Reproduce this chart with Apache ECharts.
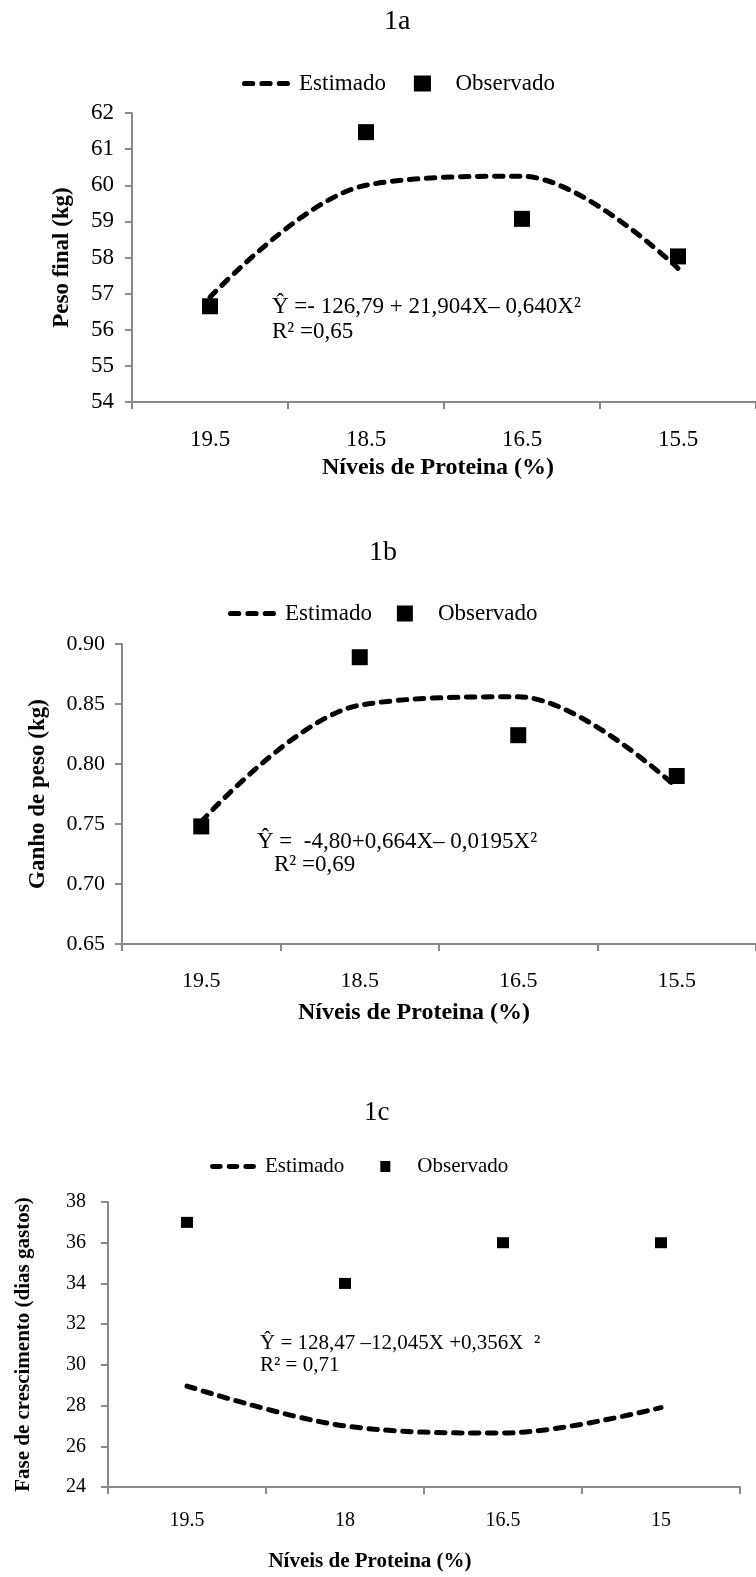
<!DOCTYPE html>
<html>
<head>
<meta charset="utf-8">
<script src="https://cdn.jsdelivr.net/npm/echarts@6/dist/echarts.min.js"></script>
<style>
body{margin:0;background:#fff;}
.painel{position:absolute;left:0;width:756px;}
</style>
</head>
<body>
<div id="fig1a" class="painel" style="top:0;height:510px"></div>
<div id="fig1b" class="painel" style="top:510px;height:520px"></div>
<div id="fig1c" class="painel" style="top:1030px;height:547px"></div>
<script>
var FONTE = '"Liberation Serif","Times New Roman",serif';
var CINZA = '#898989';

//1a - peso final
var niveisA = ['19.5', '18.5', '16.5', '15.5'];
var estimadoA = [56.9, 60.0, 60.25, 57.7];
var observadoA = [56.65, 61.47, 59.07, 58.03];
var eixoYA = [54, 62, 1];
var equacaoA = ['\u0176 =- 126,79 + 21,904X\u2013 0,640X\u00b2', 'R\u00b2 =0,65'];

//1b - ganho de peso
var niveisB = ['19.5', '18.5', '16.5', '15.5'];
var estimadoB = [0.752, 0.849, 0.856, 0.7805];
var observadoB = [0.748, 0.889, 0.824, 0.79];
var eixoYB = [0.65, 0.90, 0.05];
var equacaoB = ['\u0176 =  -4,80+0,664X\u2013 0,0195X\u00b2', 'R\u00b2 =0,69'];

//1c - fase de crescimento
var niveisC = ['19.5', '18', '16.5', '15'];
var estimadoC = [28.96, 27.0, 26.65, 27.9];
var observadoC = [37, 34, 36, 36];
var eixoYC = [24, 38, 2];
var equacaoC = ['\u0176 = 128,47 \u201312,045X +0,356X  \u00b2', 'R\u00b2 = 0,71'];

//icone da linha tracejada na legenda
var tracos = 'path://M2.5,0h8a2.5,2.5 0 0 1 0,5h-8a2.5,2.5 0 0 1 0,-5zM19.5,0h8a2.5,2.5 0 0 1 0,5h-8a2.5,2.5 0 0 1 0,-5zM36.5,0h8a2.5,2.5 0 0 1 0,5h-8a2.5,2.5 0 0 1 0,-5z';

function painel(id, p){
	var chart = echarts.init(document.getElementById(id));
	var option = {
		animation:false,
		title:{
			text:p.titulo, left:p.tituloX, top:p.tituloY, padding:0,
			textStyle:{fontFamily:FONTE, fontSize:p.fTitulo, fontWeight:'normal', color:'#000'}
		},
		legend:{
			left:p.legX, top:p.legY, itemWidth:p.legW, itemHeight:p.legH, itemGap:p.legGap,
			textStyle:{fontFamily:FONTE, fontSize:p.fLegenda, color:'#000', padding:[0,0,0,4]},
			data:[
				{name:'Estimado', icon:tracos, itemStyle:{color:'#000', borderWidth:0, opacity:1}},
				{name:'Observado', icon:p.quadrado, itemStyle:{color:'#000', borderWidth:0, opacity:1}}
			]
		},
		grid:{left:p.grade[0], top:p.grade[1], right:p.grade[2], bottom:p.grade[3]},
		xAxis:{
			type:'category', data:p.niveis, boundaryGap:true,
			name:'N\u00edveis de Proteina (%)', nameLocation:'middle', nameGap:p.gapX,
			nameTextStyle:{fontFamily:FONTE, fontSize:p.fNomeX, fontWeight:'bold', color:'#000', padding:[0,p.desvioX,0,0]},
			axisLine:{lineStyle:{color:CINZA, width:2}},
			axisTick:{show:true, length:7, interval:0, lineStyle:{color:CINZA, width:2}},
			axisLabel:{margin:p.margemX, fontFamily:FONTE, fontSize:p.fEixo, color:'#000'},
			splitLine:{show:false}
		},
		yAxis:{
			type:'value', min:p.eixoY[0], max:p.eixoY[1], interval:p.eixoY[2],
			name:p.nomeY, nameLocation:'middle', nameRotate:90, nameGap:p.gapY,
			nameTextStyle:{fontFamily:FONTE, fontSize:p.fNomeY, fontWeight:'bold', color:'#000'},
			axisLine:{show:true, lineStyle:{color:CINZA, width:2}},
			axisTick:{show:true, length:7, lineStyle:{color:CINZA, width:2}},
			axisLabel:{margin:p.margemY, fontFamily:FONTE, fontSize:p.fEixo, color:'#000',
				formatter:function(v){ return v.toFixed(p.casas); }},
			splitLine:{show:false}
		},
		graphic:[
			{type:'text', x:p.eq[0], y:p.eq[1], style:{text:p.equacao[0], fontFamily:FONTE, fontSize:p.fEq, fill:'#000', verticalAlign:'middle'}},
			{type:'text', x:p.eq[2], y:p.eq[3], style:{text:p.equacao[1], fontFamily:FONTE, fontSize:p.fEq, fill:'#000', verticalAlign:'middle'}}
		],
		series:[
			{
				name:'Estimado', type:'line', data:p.estimado, smooth:0.35, symbol:'none', color:'#000',
				lineStyle:{color:'#000', width:p.espessura, type:[8.5,8.5], cap:'round'}, z:2
			},
			{
				name:'Observado', type:'scatter', data:p.observado, symbol:'rect', symbolSize:p.simbolo,
				itemStyle:{color:'#000', opacity:1}, z:3
			}
		]
	};
	chart.setOption(option);
}

painel('fig1a', {
	titulo:'1a', tituloX:384, tituloY:8, fTitulo:28,
	legX:237, legY:67, legW:48, legH:16, legGap:28, fLegenda:23, quadrado:'path://M0,0h16v15h-16z',
	grade:[132, 113, -4, 108],
	niveis:niveisA, estimado:estimadoA, observado:observadoA, eixoY:eixoYA, casas:0,
	nomeY:'Peso final (kg)', gapY:58, fNomeY:23, margemY:18,
	gapX:54, desvioX:12, fNomeX:24, margemX:26, fEixo:23,
	equacao:equacaoA, eq:[272, 307, 272, 332], fEq:23, simbolo:[16,16], espessura:5
});

painel('fig1b', {
	titulo:'1b', tituloX:369, tituloY:29, fTitulo:28,
	legX:223, legY:87, legW:48, legH:16, legGap:25, fLegenda:23, quadrado:'path://M0,0h15v15h-15z',
	grade:[122, 134, -2, 77],
	niveis:niveisB, estimado:estimadoB, observado:observadoB, eixoY:eixoYB, casas:2,
	nomeY:'Ganho de peso (kg)', gapY:72, fNomeY:23, margemY:17,
	gapX:57, desvioX:50, fNomeX:24, margemX:26, fEixo:22,
	equacao:equacaoB, eq:[257, 332, 274, 355], fEq:23, simbolo:[16,16], espessura:5
});

painel('fig1c', {
	titulo:'1c', tituloX:364, tituloY:69, fTitulo:27,
	legX:205, legY:121, legW:46, legH:11, legGap:36, fLegenda:21, quadrado:'path://M0,0h10v11h-10z',
	grade:[108, 172, 16, 87],
	niveis:niveisC, estimado:estimadoC, observado:observadoC, eixoY:eixoYC, casas:0,
	nomeY:'Fase de crescimento (dias gastos)', gapY:74, fNomeY:21, margemY:22,
	gapX:64, desvioX:108, fNomeX:21, margemX:24, fEixo:20,
	equacao:equacaoC, eq:[260, 313, 260, 335], fEq:21, simbolo:[12,11], espessura:5
});
</script>
</body>
</html>
